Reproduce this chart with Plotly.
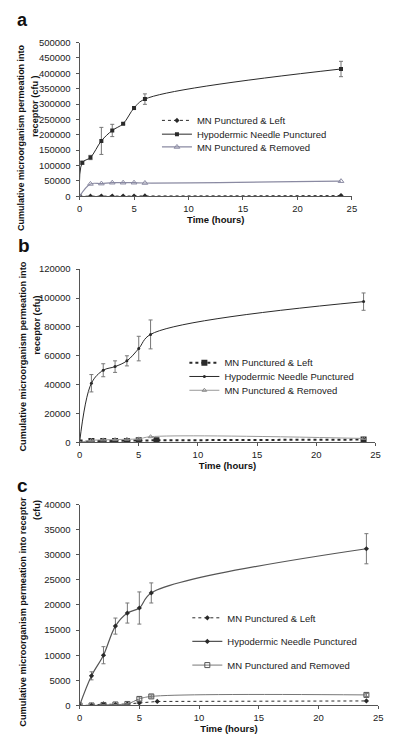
import plotly.graph_objects as go

# ---------------- data ----------------
# Panel a
a_left_t = [0, 1, 2, 3, 4, 5, 6, 24]
a_left_v = [0, 300, 400, 600, 700, 600, 800, 2000]
a_hypo_t = [0, 0.25, 1, 2, 3, 4, 5, 6, 24]
a_hypo_v = [0, 109000, 126000, 180000, 214000, 236000, 287000, 316000, 414000]
a_hypo_e = [0, 5000, 7000, 44000, 20000, 3000, 5000, 17000, 25000]
a_rem_t = [0, 1, 2, 3, 4, 5, 6, 24]
a_rem_v = [0, 40000, 41000, 44000, 44000, 44000, 43000, 49000]

# Panel b
b_left_t = [0, 1, 2, 3, 4, 5, 6.5, 24]
b_left_v = [0, 1000, 1000, 1000, 1000, 1500, 1500, 2000]
b_hypo_t = [0, 1, 2, 3, 4, 5, 6, 24]
b_hypo_v = [0, 41000, 50000, 52500, 56500, 65000, 74800, 97500]
b_hypo_e = [0, 6000, 4500, 4000, 3500, 8500, 10000, 6000]
b_rem_t = [0, 1, 2, 3, 4, 5, 6, 24]
b_rem_v = [0, 1500, 1800, 2000, 2200, 2500, 4000, 2800]

# Panel c
c_left_t = [0, 1, 2, 3, 4, 5, 6.5, 24]
c_left_v = [0, 50, 300, 200, 300, 500, 800, 900]
c_hypo_t = [0, 1, 2, 3, 4, 5, 6, 24]
c_hypo_v = [0, 5900, 10000, 15800, 18400, 19400, 22400, 31200]
c_hypo_e = [0, 800, 1700, 1600, 2000, 3200, 2000, 3000]
c_rem_t = [0, 1, 2, 3, 4, 5, 6, 24]
c_rem_v = [0, 0, 100, 200, 300, 1300, 1800, 2100]
c_rem_e = [0, 0, 0, 0, 0, 400, 300, 300]

names_ab = ["MN Punctured & Left", "Hypodermic Needle Punctured", "MN Punctured & Removed"]
names_c = ["MN Punctured & Left", "Hypodermic Needle Punctured", "MN Punctured and Removed"]

x_ticks = [0, 5, 10, 15, 20, 25]

# ---------------- figure ----------------
OFF = 8  # default page body margin
W, H = 400 - OFF, 741 - OFF
FONT = "Liberation Sans, Arial, sans-serif"
FS = 9.5
BLACK = "#2a2a2a"
GREY = "#8a8aa2"
ERR = "#777777"


def X(px):
    return (px - OFF) / W


def Y(px):
    return 1 - (px - OFF) / H


fig = go.Figure()


def err(e):
    return dict(type="data", array=e, visible=True, color=ERR, thickness=1, width=2)


# Panel a traces
fig.add_trace(go.Scatter(x=a_left_t, y=a_left_v, name=names_ab[0], mode="lines+markers",
                         line=dict(color=BLACK, width=1, dash="dot"),
                         marker=dict(symbol="diamond", size=4, color=BLACK),
                         xaxis="x", yaxis="y", legend="legend"))
fig.add_trace(go.Scatter(x=a_hypo_t, y=a_hypo_v, name=names_ab[1], mode="lines+markers",
                         line=dict(color=BLACK, width=1, shape="spline"),
                         marker=dict(symbol="square", size=4, color=BLACK),
                         error_y=err(a_hypo_e), xaxis="x", yaxis="y", legend="legend2"))
fig.add_trace(go.Scatter(x=a_rem_t, y=a_rem_v, name=names_ab[2], mode="lines+markers",
                         line=dict(color=GREY, width=1.2, shape="spline"),
                         marker=dict(symbol="triangle-up-open", size=5, color=GREY),
                         xaxis="x", yaxis="y", legend="legend3"))

# Panel b traces
fig.add_trace(go.Scatter(x=b_left_t, y=b_left_v, name=names_ab[0], mode="lines+markers",
                         line=dict(color=BLACK, width=2, dash="dot"),
                         marker=dict(symbol="square", size=6, color=BLACK),
                         xaxis="x2", yaxis="y2", legend="legend4"))
fig.add_trace(go.Scatter(x=b_hypo_t, y=b_hypo_v, name=names_ab[1], mode="lines+markers",
                         line=dict(color=BLACK, width=1, shape="spline"),
                         marker=dict(symbol="circle", size=3, color=BLACK),
                         error_y=err(b_hypo_e), xaxis="x2", yaxis="y2", legend="legend5"))
fig.add_trace(go.Scatter(x=b_rem_t, y=b_rem_v, name=names_ab[2], mode="lines+markers",
                         line=dict(color="#999999", width=1, shape="spline"),
                         marker=dict(symbol="triangle-up-open", size=4, color="#888888"),
                         xaxis="x2", yaxis="y2", legend="legend6"))

# Panel c traces
fig.add_trace(go.Scatter(x=c_left_t, y=c_left_v, name=names_c[0], mode="lines+markers",
                         line=dict(color=BLACK, width=1, dash="dot"),
                         marker=dict(symbol="diamond", size=4, color=BLACK),
                         xaxis="x3", yaxis="y3", legend="legend7"))
fig.add_trace(go.Scatter(x=c_hypo_t, y=c_hypo_v, name=names_c[1], mode="lines+markers",
                         line=dict(color="#555555", width=1.2, shape="spline"),
                         marker=dict(symbol="diamond", size=4, color=BLACK),
                         error_y=err(c_hypo_e), xaxis="x3", yaxis="y3", legend="legend8"))
fig.add_trace(go.Scatter(x=c_rem_t, y=c_rem_v, name=names_c[2], mode="lines+markers",
                         line=dict(color="#777777", width=1, shape="spline"),
                         marker=dict(symbol="square-open", size=5, color="#555555"),
                         error_y=err(c_rem_e), xaxis="x3", yaxis="y3", legend="legend9"))

axis_common = dict(showgrid=False, zeroline=False, showline=True, linecolor="#555555", linewidth=1,
                   ticks="outside", ticklen=3, tickcolor="#555555",
                   tickfont=dict(family=FONT, size=FS, color="#222222"))

title_font = dict(family=FONT, size=FS, color="#111111")
ytitle_font = dict(family=FONT, size=9.2, color="#111111")
ytitle_font_a = dict(family=FONT, size=9.0, color="#111111")


def leg(xpx, ypx):
    return dict(x=X(xpx), y=Y(ypx), xanchor="left", yanchor="middle", bgcolor="rgba(0,0,0,0)",
                font=dict(family=FONT, size=FS, color="#222222"), itemwidth=30)


layout = dict(
    width=W, height=H, margin=dict(l=0, r=0, t=0, b=0),
    paper_bgcolor="white", plot_bgcolor="white",
    font=dict(family=FONT, size=FS, color="#222222"),
    xaxis=dict(domain=[X(78), X(356)], range=[0, 25], tickvals=x_ticks, anchor="y",
               title=dict(text="<b>Time (hours)</b>", font=title_font, standoff=2), **axis_common),
    yaxis=dict(domain=[Y(193), Y(37)], range=[0, 500000], dtick=50000, anchor="x",
               tickformat="d", ticklabelstandoff=3, **axis_common),
    xaxis2=dict(domain=[X(78), X(380)], range=[0, 25], tickvals=x_ticks, anchor="y2",
                title=dict(text="<b>Time (hours)</b>", font=title_font, standoff=2), **axis_common),
    yaxis2=dict(domain=[Y(443), Y(267)], range=[0, 120000], dtick=20000, anchor="x2",
                tickformat="d", ticklabelstandoff=3, **axis_common),
    xaxis3=dict(domain=[X(78), X(383)], range=[0, 25], tickvals=x_ticks, anchor="y3",
                title=dict(text="<b>Time (hours)</b>", font=title_font, standoff=2), **axis_common),
    yaxis3=dict(domain=[Y(710), Y(506)], range=[0, 40000], dtick=5000, anchor="x3",
                tickformat="d", ticklabelstandoff=3, **axis_common),
    showlegend=True,
)
legend_pos = [(157, 116), (157, 130), (157, 143),
              (185, 362), (185, 376), (185, 390),
              (188, 621), (188, 645), (188, 669)]
for i, (lx, ly) in enumerate(legend_pos):
    key = "legend" if i == 0 else f"legend{i + 1}"
    layout[key] = leg(lx, ly)
fig.update_layout(**layout)

ann = [
    dict(text="<b>a</b>", x=X(20), y=Y(14), font=dict(family=FONT, size=18, color="#111111")),
    dict(text="<b>b</b>", x=X(21), y=Y(243), font=dict(family=FONT, size=19, color="#111111")),
    dict(text="<b>c</b>", x=X(20), y=Y(487), font=dict(family=FONT, size=19, color="#111111")),
    dict(text="<b>Cumulative microorganism permeation into</b>", x=X(18), y=Y(133), textangle=-90, font=ytitle_font_a),
    dict(text="<b>receptor (cfu )</b>", x=X(32), y=Y(102), textangle=-90, font=ytitle_font),
    dict(text="<b>Cumulative microorganism permeation into</b>", x=X(20), y=Y(356), textangle=-90, font=ytitle_font),
    dict(text="<b>receptor (cfu)</b>", x=X(35), y=Y(324), textangle=-90, font=ytitle_font),
    dict(text="<b>Cumulative microorganism permeation into receptor</b>", x=X(20), y=Y(615), textangle=-90, font=ytitle_font),
    dict(text="<b>(cfu)</b>", x=X(35), y=Y(511), textangle=-90, font=ytitle_font),
]
for a in ann:
    a.update(xref="paper", yref="paper", showarrow=False, xanchor="center", yanchor="middle")
fig.update_layout(annotations=ann)

fig.write_html("out.html")
